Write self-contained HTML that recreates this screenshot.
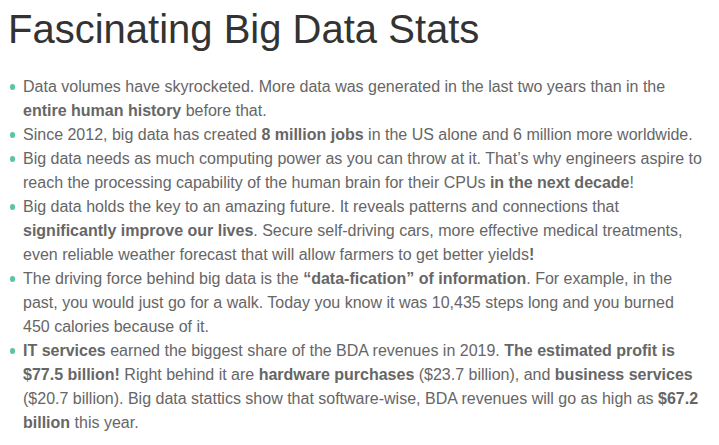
<!DOCTYPE html>
<html>
<head>
<meta charset="utf-8">
<style>
html, body { margin: 0; padding: 0; background: #fff; }
body { width: 719px; height: 445px; overflow: hidden; position: relative; font-family: "Liberation Sans", sans-serif; }
h1 { position: absolute; left: 8px; top: 6px; margin: 0; font-size: 40px; font-weight: normal; line-height: 46px; color: #333; white-space: nowrap; }
ul { position: absolute; left: 0; top: 75px; margin: 0; padding: 0; list-style: none; font-size: 16px; line-height: 24px; color: #666; }
li { position: relative; padding-left: 23px; white-space: nowrap; }
li::before { content: ""; position: absolute; left: 9.8px; top: 9px; width: 5.4px; height: 6px; border-radius: 50%; background: #58c4a2; }
b { font-weight: bold; }
</style>
</head>
<body>
<h1>Fascinating Big Data Stats</h1>
<ul>
<li>Data volumes have skyrocketed. More data was generated in the last two years than in the<br><b>entire human history</b> before that.</li>
<li>Since 2012, big data has created <b>8 million jobs</b> in the US alone and 6 million more worldwide.</li>
<li>Big data needs as much computing power as you can throw at it. That’s why engineers aspire to<br>reach the processing capability of the human brain for their CPUs <b>in the next decade</b>!</li>
<li>Big data holds the key to an amazing future. It reveals patterns and connections that<br><b>significantly improve our lives</b>. Secure self-driving cars, more effective medical treatments,<br>even reliable weather forecast that will allow farmers to get better yields<b>!</b></li>
<li>The driving force behind big data is the <b>“data-fication” of information</b>. For example, in the<br>past, you would just go for a walk. Today you know it was 10,435 steps long and you burned<br>450 calories because of it.</li>
<li><b>IT services</b> earned the biggest share of the BDA revenues in 2019. <b>The estimated profit is<br>$77.5 billion!</b> Right behind it are <b>hardware purchases</b> ($23.7 billion), and <b>business services</b><br>($20.7 billion). Big data stattics show that software-wise, BDA revenues will go as high as <b>$67.2<br>billion</b> this year.</li>
</ul>
</body>
</html>
